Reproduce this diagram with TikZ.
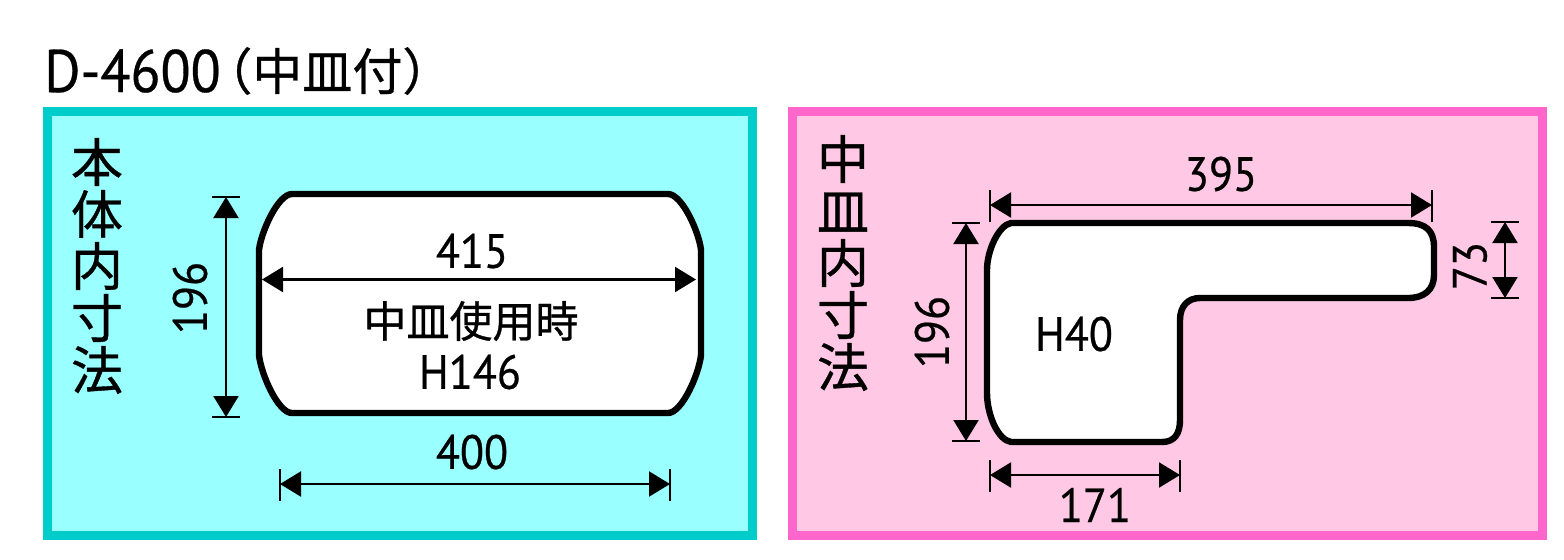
\documentclass[tikz,border=0pt]{standalone}
\usepackage{fontspec}
\usetikzlibrary{arrows.meta}
\newfontfamily\cjk[FakeBold=0.7]{Noto Sans CJK JP}
\newfontfamily\latin[FakeStretch=0.92, FakeBold=0.5]{PT Sans}
\definecolor{bodyfill}{HTML}{99FFFF}
\definecolor{bodyline}{HTML}{00CCCC}
\definecolor{trayfill}{HTML}{FFC8E4}
\definecolor{trayline}{HTML}{FF66CC}
\tikzset{
	panel/.style = {line width = 4.75pt, line join = miter},
	outline/.style = {draw = black, fill = white, line width = 3.2pt, line join = round},
	dimline/.style = {<->, line width = 1.1pt},
	tick/.style = {line width = 1pt},
	num/.style = {inner sep = 0pt, font = \latin\fontsize{24}{26}\selectfont},
	kanji/.style = {inner sep = 0pt, align = center, font = \cjk\fontsize{26}{26}\selectfont},
}

\begin{document}
\begin{tikzpicture}[x = 0.5pt, y = -0.5pt, > = {Triangle[length = 10.5pt, width = 12.5pt]}]

	\useasboundingbox (0, 0) rectangle (1564, 559);

	% Title

	\node (title) [anchor = base west, inner sep = 0pt, font = \latin\fontsize{30}{32}\selectfont] at (44, 92) {D-4600};
	\node (titlejp) [anchor = base west, inner sep = 0pt, font = \cjk\fontsize{25}{26}\selectfont] at (202, 90) {（中皿付）};

	% Panels

	\draw [panel, draw = bodyline, fill = bodyfill] (47.5, 111.5) rectangle (752.5, 535.5);
	\draw [panel, draw = trayline, fill = trayfill] (792.5, 111.5) rectangle (1542.5, 535.5);

	% Body outline

	\draw [outline] (292, 194) -- (668, 194)
		.. controls (682, 194) and (699, 232) .. (701, 250) -- (701, 355)
		.. controls (699, 374) and (682, 413) .. (668, 413) -- (292, 413)
		.. controls (278, 413) and (261, 374) .. (259, 355) -- (259, 250)
		.. controls (261, 232) and (278, 194) .. (292, 194) -- cycle;

	% Tray outline

	\draw [outline] (1011, 223) -- (1408, 223)
		.. controls (1425, 223) and (1434, 230) .. (1434, 247) -- (1434, 275)
		.. controls (1434, 290) and (1424, 298) .. (1408, 298) -- (1200, 298)
		.. controls (1188, 298) and (1180, 306) .. (1180, 320) -- (1180, 420)
		.. controls (1180, 433) and (1175, 442) .. (1162, 442) -- (1011, 442)
		.. controls (998, 440) and (987, 415) .. (987, 393) -- (987, 270)
		.. controls (987, 250) and (999, 225) .. (1011, 223) -- cycle;

	% Dimension ends

	\coordinate (a1) at (226, 197);
	\coordinate (a2) at (226, 417);
	\coordinate (b1) at (262, 279.5);
	\coordinate (b2) at (696, 279.5);
	\coordinate (c1) at (280, 484);
	\coordinate (c2) at (670, 484);
	\coordinate (d1) at (990, 205);
	\coordinate (d2) at (1432, 205);
	\coordinate (e1) at (966, 223);
	\coordinate (e2) at (966, 441);
	\coordinate (f1) at (1505, 222);
	\coordinate (f2) at (1505, 298);
	\coordinate (g1) at (990, 475);
	\coordinate (g2) at (1180, 475);

	% Dimension lines

	\foreach \Q in {a, b, c, d, e, f, g}
		\draw [dimline] (\Q1) -- (\Q2);

	% Extension ticks

	\foreach \P/\Q/\L in {a1/a2/14, e1/e2/14, f1/f2/14}
	{
		\draw [tick] ([xshift = -\L * 0.5pt] \P) -- ([xshift = \L * 0.5pt] \P);
		\draw [tick] ([xshift = -\L * 0.5pt] \Q) -- ([xshift = \L * 0.5pt] \Q);
	}
	\foreach \P/\Q in {c1/c2, d1/d2, g1/g2}
	{
		\draw [tick] ([yshift = -8.5pt] \P) -- ([yshift = 7.5pt] \P);
		\draw [tick] ([yshift = -8.5pt] \Q) -- ([yshift = 7.5pt] \Q);
	}

	% Labels, body

	\node (bodyname) [kanji] at (97, 266) {本\\体\\内\\寸\\法};
	\node (bodyh) [num, rotate = 90] at (190, 298) {196};
	\node (bodyw) [num] at (472, 251) {415};
	\node (bodyuse) [inner sep = 0pt, font = \cjk\fontsize{21.5}{22}\selectfont] at (471, 321) {中皿使用時};
	\node (bodyd) [num] at (470, 372) {H146};
	\node (bodyl) [num] at (472, 452) {400};

	% Labels, tray

	\node (trayname) [kanji] at (843, 263) {中\\皿\\内\\寸\\法};
	\node (trayw) [num] at (1221, 174) {395};
	\node (trayh) [num, rotate = 90] at (932, 332) {196};
	\node (trayd) [num] at (1074, 334) {H40};
	\node (trayarm) [num, rotate = 90] at (1470, 266) {73};
	\node (trayl) [num] at (1095, 505) {171};

\end{tikzpicture}
\end{document}
